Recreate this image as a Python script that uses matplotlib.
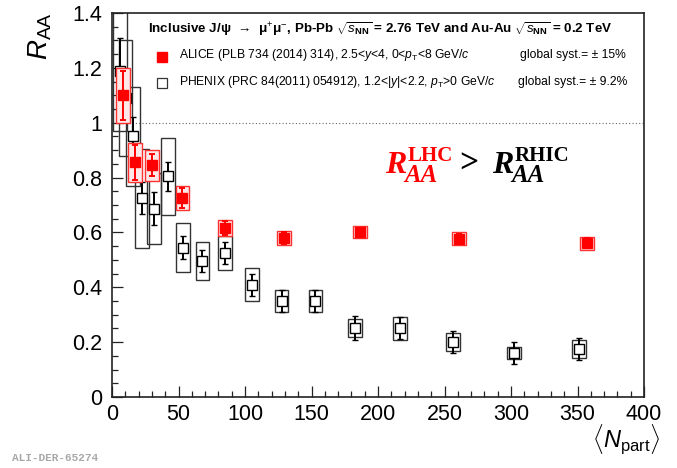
import matplotlib
matplotlib.use('Agg')
import matplotlib.pyplot as plt
from matplotlib.patches import Rectangle
from matplotlib.ticker import MultipleLocator

plt.rcParams['font.family'] = ['Liberation Sans', 'DejaVu Sans']
plt.rcParams['mathtext.fontset'] = 'custom'
plt.rcParams['mathtext.rm'] = 'Liberation Sans'
plt.rcParams['mathtext.it'] = 'Liberation Sans:italic'
plt.rcParams['mathtext.bf'] = 'Liberation Sans:bold'

# ALICE Pb-Pb 2.76 TeV, forward rapidity
alice_npart = [357, 261, 186.5, 129.5, 85, 53, 30, 17, 8]
alice_raa = [0.56, 0.577, 0.60, 0.58, 0.615, 0.725, 0.845, 0.855, 1.10]
alice_stat = [0.018, 0.018, 0.015, 0.022, 0.025, 0.036, 0.04, 0.063, 0.09]
alice_syst = [0.025, 0.023, 0.022, 0.025, 0.029, 0.045, 0.057, 0.07, 0.10]

# PHENIX Au-Au 0.2 TeV, 1.2<|y|<2.2
phenix_npart = [351, 302, 256.6, 216.5, 182.7, 153, 127.5, 105, 85, 68,
                53.6, 41.8, 31.3, 22.8, 15.5, 10.2, 6.0]
phenix_raa = [0.175, 0.16, 0.20, 0.25, 0.252, 0.35, 0.35, 0.41, 0.525, 0.495,
              0.545, 0.805, 0.687, 0.725, 0.95, 1.09, 1.19]
phenix_stat = [0.04, 0.04, 0.04, 0.04, 0.043, 0.04, 0.04, 0.04, 0.04, 0.04,
               0.041, 0.053, 0.06, 0.058, 0.07, 0.07, 0.12]
phenix_syst = [0.032, 0.021, 0.032, 0.043, 0.032, 0.041, 0.041, 0.061, 0.062, 0.07,
               0.09, 0.14, 0.13, 0.18, 0.18, 0.21, 0.22]

BOX_HW = 5.2  # half width of systematic boxes in Npart units
W, H = 677, 468


def fpx(x, y):
    """pixel position -> figure fraction"""
    return x / W, 1 - y / H


fig = plt.figure(figsize=(W / 100, H / 100), dpi=100)
ax = fig.add_axes([112 / W, 1 - 397 / H, (644 - 112) / W, (397 - 13) / H])
ax.set_xlim(0, 400)
ax.set_ylim(0, 1.4)

ax.axhline(1.0, color='#666666', lw=0.8, ls=(0, (1, 2)), zorder=1)

# systematic boxes
for n, r, s in zip(phenix_npart, phenix_raa, phenix_syst):
    ax.add_patch(Rectangle((n - BOX_HW, r - s), 2 * BOX_HW, 2 * s, fill=False,
                           edgecolor='#333333', lw=1.0, zorder=2))
for n, r, s in zip(alice_npart, alice_raa, alice_syst):
    ax.add_patch(Rectangle((n - BOX_HW, r - s), 2 * BOX_HW, 2 * s,
                           facecolor='#ffe8e8', edgecolor='#ff3030', lw=1.0, zorder=4))

ax.errorbar(phenix_npart, phenix_raa, yerr=phenix_stat, fmt='s', ms=6.5,
            mfc='white', mec='black', mew=1.0, ecolor='black', elinewidth=1.4,
            capsize=2, capthick=1.4, zorder=3)
ax.errorbar(alice_npart, alice_raa, yerr=alice_stat, fmt='s', ms=7,
            mfc='#ff0000', mec='#ff0000', ecolor='#ff0000', elinewidth=1.4,
            capsize=2, capthick=1.4, zorder=5)

# ROOT-like axis style
ax.xaxis.set_major_locator(MultipleLocator(50))
ax.xaxis.set_minor_locator(MultipleLocator(10))
ax.yaxis.set_major_locator(MultipleLocator(0.2))
ax.yaxis.set_minor_locator(MultipleLocator(0.05))
ax.tick_params(which='both', direction='in', top=False, right=False,
               width=0.9, labelsize=15.5, color='#222222')
ax.tick_params(which='major', length=8)
ax.tick_params(which='minor', length=4)
ax.tick_params(axis='x', pad=5)
ax.tick_params(axis='y', pad=7)
ax.yaxis.set_major_formatter(plt.FuncFormatter(lambda v, p: f'{v:g}'))
for sp in ax.spines.values():
    sp.set_linewidth(1.2)
    sp.set_color('#222222')

fig.text(*fpx(40, 12), r'$R_{\rm AA}$', fontsize=20, rotation=90,
         ha='center', va='top')
fig.text(*fpx(660, 423), r'$\langle N_{\rm part}\rangle$', fontsize=17,
         ha='right', va='top')

# header and legend
fig.text(*fpx(148, 29), 'Inclusive J/ψ  →  μ$^{+}$μ$^{-}$, Pb-Pb '
         r'$\sqrt{s_{\mathbf{NN}}}$ = 2.76 TeV and Au-Au $\sqrt{s_{\mathbf{NN}}}$ = 0.2 TeV',
         fontsize=9.6, weight='bold', va='center')
ax.plot(*fpx(162, 56.5), marker='s', ms=7, color='#ff0000',
        transform=fig.transFigure, clip_on=False)
ax.plot(*fpx(162, 82.5), marker='s', ms=7, mfc='white', mec='#333333', mew=0.9,
        transform=fig.transFigure, clip_on=False)
fig.text(*fpx(179, 55), r'ALICE (PLB 734 (2014) 314), 2.5<$y$<4, 0<$p_{\rm T}$<8 GeV/$c$',
         fontsize=8.7, va='center')
fig.text(*fpx(179, 82), r'PHENIX (PRC 84(2011) 054912), 1.2<|$y$|<2.2, $p_{\rm T}$>0 GeV/$c$',
         fontsize=8.7, va='center')
fig.text(*fpx(520, 55), 'global syst.= ± 15%', fontsize=8.7, va='center')
fig.text(*fpx(518, 82), 'global syst.= ± 9.2%', fontsize=8.7, va='center')

# R_AA^LHC > R_AA^RHIC
serif = dict(family='Liberation Serif', weight='bold', va='baseline')
for x0, col, sup in ((385, '#ff0000', 'LHC'), (492, 'black', 'RHIC')):
    fig.text(*fpx(x0, 173), 'R', fontsize=23, style='italic', color=col, **serif)
    fig.text(*fpx(x0 + 23, 161), sup, fontsize=15, color=col, **serif)
    fig.text(*fpx(x0 + 19, 182), 'AA', fontsize=18, style='italic', color=col, **serif)
fig.text(*fpx(459, 173), '>', fontsize=24, color='black', **serif)

fig.text(*fpx(12, 458), 'ALI-DER-65274', family='Liberation Mono', fontsize=8,
         weight='bold', color='#a8a8a8', va='center')

fig.savefig('out.png', dpi=100)
